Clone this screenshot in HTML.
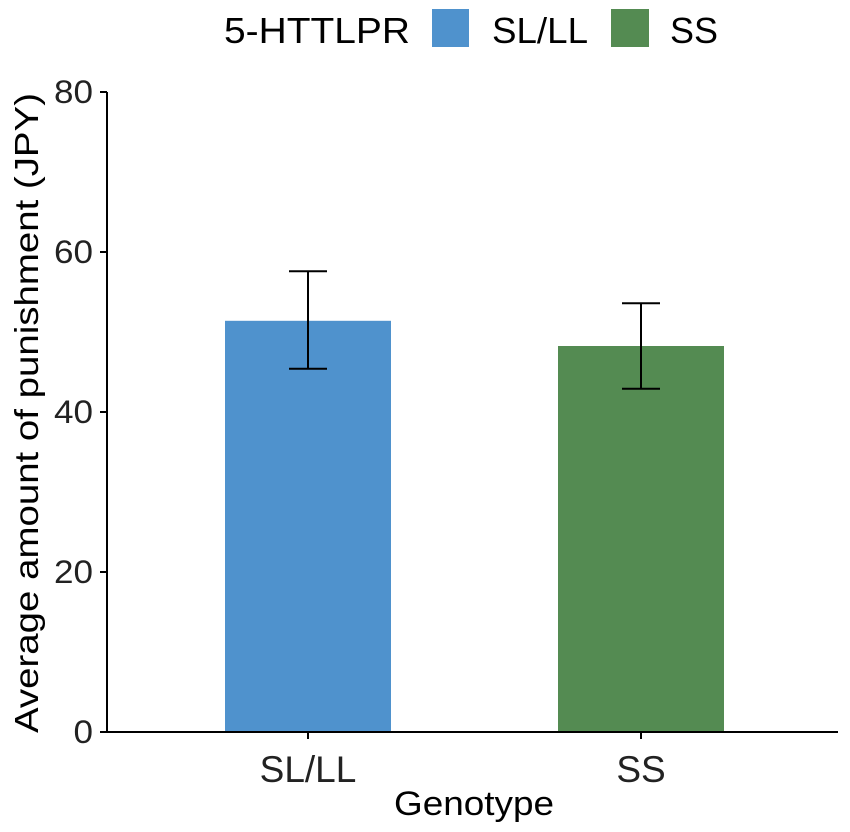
<!DOCTYPE html>
<html><head><meta charset="utf-8"><style>
body{margin:0;background:#fff;}
svg{display:block;font-family:"Liberation Sans",Arial,sans-serif;}
</style></head><body>
<svg id="chart" width="850" height="832">
<g id="legend">
<text x="224" y="43" font-size="36" textLength="186" lengthAdjust="spacingAndGlyphs" fill="#000">5-HTTLPR</text>
<rect x="432" y="9" width="37" height="38" fill="#4f92cd"/>
<text x="492" y="43" font-size="36" textLength="96" lengthAdjust="spacingAndGlyphs" fill="#000">SL/LL</text>
<rect x="611" y="9" width="38" height="38" fill="#548b52"/>
<text x="670" y="43" font-size="36" textLength="48" lengthAdjust="spacingAndGlyphs" fill="#000">SS</text>
</g>
<g id="plot"></g>
<text transform="translate(38,413) rotate(-90)" text-anchor="middle" font-size="33" textLength="640" lengthAdjust="spacingAndGlyphs" fill="#000">Average amount of punishment (JPY)</text>
<text x="474" y="815" text-anchor="middle" font-size="34" textLength="160" lengthAdjust="spacingAndGlyphs" fill="#000">Genotype</text>
</svg>
<script>
const categories=["SL/LL","SS"];
const means=[51.4,48.25];
const lowers=[45.4,42.9];
const uppers=[57.6,53.6];
const colors=["#4f92cd","#548b52"];
const yTicks=[0,20,40,60,80];
const NS="http://www.w3.org/2000/svg";
const g=document.getElementById("plot");
const y0=732,y1=92,yMax=80;
function yScale(v){return y0-(v/yMax)*(y0-y1);}
const xLeft=107,xRight=838,bandStep=333,barW=166,firstCenter=308;
function xScale(i){return firstCenter+i*bandStep;}
function mk(t,a){const e=document.createElementNS(NS,t);for(const k in a)e.setAttribute(k,a[k]);g.appendChild(e);return e;}
categories.forEach((c,i)=>{
 const cx=xScale(i);
 const b=mk("rect",{x:cx-barW/2,y:yScale(means[i]),width:barW,height:yScale(0)-yScale(means[i]),fill:colors[i]});
 
 
 const st={stroke:"#000","stroke-width":2};
 const v=mk("line",Object.assign({x1:cx,x2:cx,y1:yScale(lowers[i]),y2:yScale(uppers[i])},st));
 
 
 const t1=mk("line",Object.assign({x1:cx-19,x2:cx+19,y1:yScale(uppers[i]),y2:yScale(uppers[i])},st));
 
 
 const t2=mk("line",Object.assign({x1:cx-19,x2:cx+19,y1:yScale(lowers[i]),y2:yScale(lowers[i])},st));
 
 
 const tk=mk("line",{x1:cx,x2:cx,y1:y0,y2:y0+7,stroke:"#000","stroke-width":2});
 
 
 const lb=mk("text",{x:cx,y:782,"text-anchor":"middle","font-size":37,fill:"#222"});
 lb.textContent=c;
 
 
});
yTicks.forEach(v=>{
 const yy=yScale(v);
 const tk=mk("line",{x1:xLeft-7,x2:xLeft,y1:yy,y2:yy,stroke:"#000","stroke-width":2});
 
 
 const lb=mk("text",{x:xLeft-14,y:yy+11,"text-anchor":"end","font-size":32,fill:"#222",textLength:String(v).length*19.5,lengthAdjust:"spacingAndGlyphs"});
 lb.textContent=v;
 
 
});
const ya=mk("line",{x1:xLeft,x2:xLeft,y1:y1,y2:y0+1,stroke:"#000","stroke-width":2});


const xa=mk("line",{x1:xLeft-1,x2:xRight,y1:y0,y2:y0,stroke:"#000","stroke-width":2});


</script>
</body></html>
